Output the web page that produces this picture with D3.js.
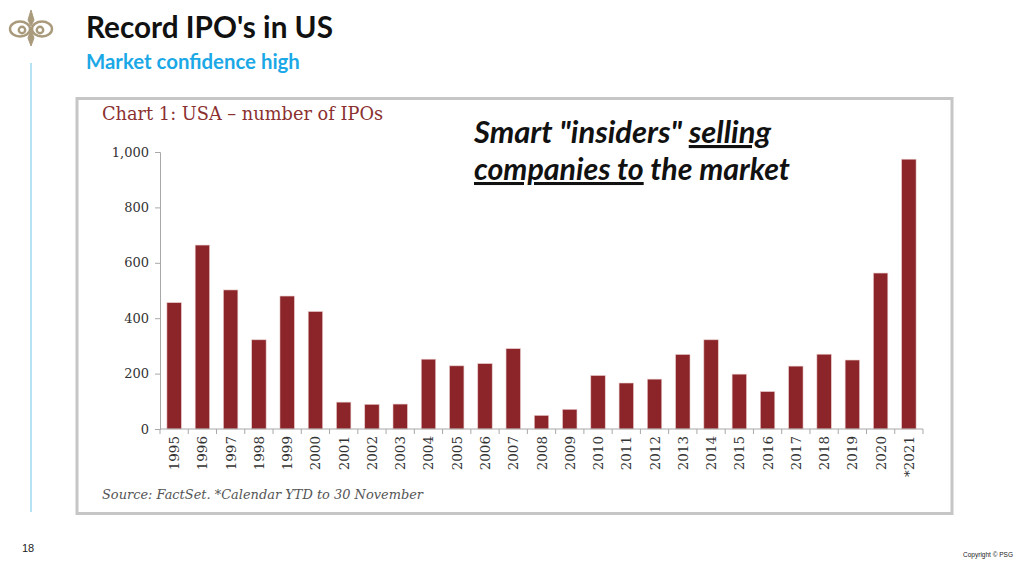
<!DOCTYPE html>
<html>
<head>
<meta charset="utf-8">
<script src="https://cdn.jsdelivr.net/npm/d3@7"></script>
<style>
  html, body { margin: 0; padding: 0; background: #fff; }
  svg { display: block; }
</style>
</head>
<body>
<svg id="slide" width="1024" height="563"></svg>
<script>
// data
var years = ["1995","1996","1997","1998","1999","2000","2001","2002","2003","2004",
  "2005","2006","2007","2008","2009","2010","2011","2012","2013","2014",
  "2015","2016","2017","2018","2019","2020","*2021"];
var ipos = [456, 664, 502, 322, 480, 424, 97, 89, 90, 252,
  228, 236, 290, 49, 71, 193, 166, 180, 269, 322,
  198, 135, 227, 270, 249, 563, 974];
var yTicks = [0, 200, 400, 600, 800, 1000];

var barColor = "#8b2529";
var serif = "'DejaVu Serif', serif";
var sans = "Lato, 'Open Sans', sans-serif";

var svg = d3.select("#slide");

// shrink/grow font so a text hits a given width
function fit(sel, w) {
  var n = sel.node();
  var fs = parseFloat(sel.attr("font-size"));
  var len = n.getComputedTextLength();
  sel.attr("font-size", (fs * w / len).toFixed(2));
  return sel;
}

// logo ornament
var logo = svg.append("g").attr("transform", "translate(31,28)")
  .attr("fill", "none").attr("stroke", "#a99a7c").attr("stroke-width", 2.4);
logo.append("ellipse").attr("cx", -11).attr("cy", 1).attr("rx", 10).attr("ry", 7.5);
logo.append("ellipse").attr("cx", 11).attr("cy", 1).attr("rx", 10).attr("ry", 7.5);
logo.append("circle").attr("cx", -9).attr("cy", 2).attr("r", 3.2);
logo.append("circle").attr("cx", 9).attr("cy", 2).attr("r", 3.2);
logo.append("path").attr("d", "M0,-18 L3,-8 L0,-2 L-3,-8 Z M0,2 L3,10 L0,18 L-3,10 Z")
  .attr("fill", "#a99a7c").attr("stroke-width", 1);

// left light blue rule
svg.append("line").attr("x1", 31).attr("x2", 31).attr("y1", 63).attr("y2", 512)
  .attr("stroke", "#9fd8ef").attr("stroke-width", 1.5);

// headings
fit(svg.append("text").attr("x", 86).attr("y", 38).attr("font-family", sans)
  .attr("font-weight", 700).attr("font-size", 28).attr("fill", "#111")
  .text("Record IPO's in US"), 247);
fit(svg.append("text").attr("x", 86).attr("y", 69).attr("font-family", sans)
  .attr("font-weight", 700).attr("font-size", 18).attr("fill", "#1ba8e6")
  .text("Market confidence high"), 214);

// chart frame
svg.append("rect").attr("x", 77).attr("y", 98.5).attr("width", 875).attr("height", 415)
  .attr("fill", "#fff").attr("stroke", "#c6c6c6").attr("stroke-width", 3);

fit(svg.append("text").attr("x", 102).attr("y", 120).attr("font-family", serif)
  .attr("font-size", 16).attr("fill", "#8b3030")
  .text("Chart 1: USA \u2013 number of IPOs"), 281);

// scales
var x = d3.scaleBand().domain(years).range([160, 923]).paddingInner(0.49).paddingOuter(0.245);
var y = d3.scaleLinear().domain([0, 1000]).range([429, 152]);

// y axis
var yAxis = svg.append("g").attr("transform", "translate(160,0)")
  .call(d3.axisLeft(y).tickValues(yTicks).tickSize(5).tickPadding(6).tickFormat(d3.format(",")));
yAxis.select(".domain").attr("stroke", "#a8a8a8");
yAxis.selectAll(".tick line").attr("stroke", "#a8a8a8");
yAxis.selectAll("text").attr("font-family", serif).attr("font-size", 13).attr("fill", "#333");

// bars
svg.append("g").selectAll("rect").data(ipos).join("rect")
  .attr("x", function(d, i) { return x(years[i]); })
  .attr("y", function(d) { return y(d); })
  .attr("width", x.bandwidth())
  .attr("height", function(d) { return y(0) - y(d); })
  .attr("fill", barColor)
  .attr("stroke", "#e9c9c9").attr("stroke-width", 0.6);

// x axis: line, ticks between bands, rotated labels
var xg = svg.append("g");
xg.append("line").attr("x1", 160).attr("x2", 923).attr("y1", y(0)).attr("y2", y(0))
  .attr("stroke", "#a8a8a8");
var bounds = years.map(function(d) { return x(d) - x.step() * x.paddingInner() / 2; });
bounds.push(923);
xg.selectAll("line.tk").data(bounds).join("line").attr("class", "tk")
  .attr("x1", function(d) { return d; }).attr("x2", function(d) { return d; })
  .attr("y1", y(0)).attr("y2", y(0) + 5).attr("stroke", "#a8a8a8");
xg.selectAll("text").data(years).join("text")
  .attr("transform", function(d) {
    return "translate(" + (x(d) + x.bandwidth() / 2 + 5) + "," + (y(0) + 7) + ") rotate(-90)";
  })
  .attr("text-anchor", "end")
  .attr("font-family", serif).attr("font-size", 13.5).attr("fill", "#333")
  .text(function(d) { return d; });

// source note
fit(svg.append("text").attr("x", 102).attr("y", 499).attr("font-family", serif)
  .attr("font-style", "italic").attr("font-size", 13).attr("fill", "#555")
  .text("Source: FactSet. *Calendar YTD to 30 November"), 321);

// annotation
var note = svg.append("g").attr("font-family", sans).attr("font-style", "italic")
  .attr("font-weight", 700).attr("fill", "#111");
var l1 = note.append("text").attr("x", 474).attr("y", 143).attr("font-size", 24);
l1.append("tspan").text("Smart \"insiders\" ");
l1.append("tspan").attr("text-decoration", "underline").text("selling");
fit(l1, 297);
var l2 = note.append("text").attr("x", 474).attr("y", 180).attr("font-size", 24);
l2.append("tspan").attr("text-decoration", "underline").text("companies to");
l2.append("tspan").text(" the market");
fit(l2, 316);

// footer
svg.append("text").attr("x", 22).attr("y", 552).attr("font-family", "'Liberation Sans Narrow', 'Liberation Sans', sans-serif")
  .attr("font-size", 11).attr("fill", "#222").text("18");
svg.append("text").attr("x", 1013).attr("y", 557).attr("text-anchor", "end")
  .attr("font-family", "'Liberation Sans Narrow', 'Liberation Sans', sans-serif")
  .attr("font-size", 6.5).attr("fill", "#222").text("Copyright \u00a9 PSG");
</script>
</body>
</html>
